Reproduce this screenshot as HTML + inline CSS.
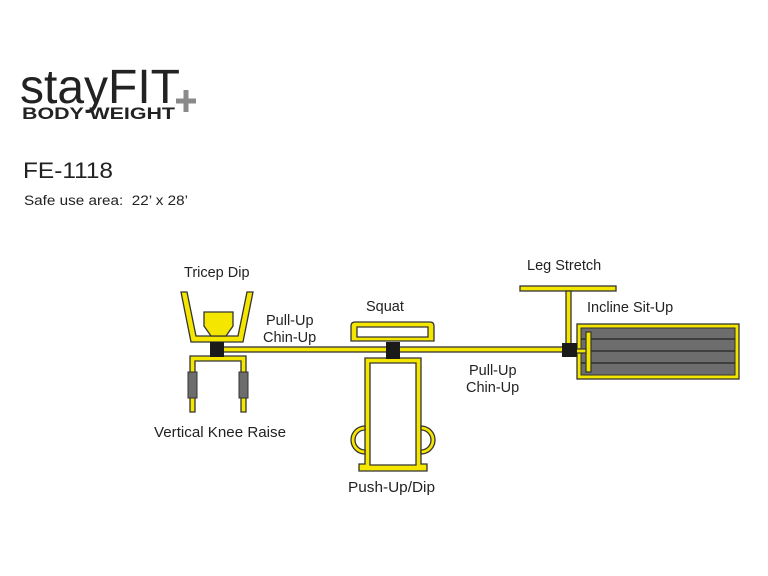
<!DOCTYPE html>
<html><head><style>
body{margin:0;background:#fff;}
svg{display:block}
text{font-family:"Liberation Sans",Arial,sans-serif;fill:#222}
</style></head><body>
<svg width="768" height="576" viewBox="0 0 768 576">
<!-- logo -->
<text x="20" y="103" font-size="48" fill="#1a1a1a" textLength="160" lengthAdjust="spacingAndGlyphs">stayFIT</text>
<text x="22" y="119" font-size="17" font-weight="bold" fill="#8a8a8a" textLength="153" lengthAdjust="spacingAndGlyphs">BODY WEIGHT</text>
<path d="M176 101h20M186 90v22" stroke="#8a8a8a" stroke-width="5"/>
<text x="23" y="178" font-size="22" textLength="90" lengthAdjust="spacingAndGlyphs">FE-1118</text>
<text x="24" y="205" font-size="13.5" textLength="164" lengthAdjust="spacingAndGlyphs">Safe use area:&#160; 22’ x 28’</text>

<g stroke="#333" stroke-width="1.3" fill="#f5e600">
<rect x="220" y="347" width="352" height="5"/>
<rect x="520" y="286" width="96" height="5"/>
<rect x="566" y="291" width="5" height="54"/>
<path d="M181 292 L187 292 L196 336 L238 336 L247 292 L253 292 L243 342 L191 342 Z"/>
<path d="M204 312 L233 312 L233 326 L226 336 L211 336 L204 326 Z"/>
<path d="M190 356 L246 356 L246 412 L241 412 L241 361 L195 361 L195 412 L190 412 Z"/>
<path fill-rule="evenodd" d="M355 322 H430 Q434 322 434 326 V341 H351 V326 Q351 322 355 322 Z M357 327 V337 H428 V327 Z"/>
<path fill-rule="evenodd" d="M365 358 H421 V464 H427 V471 H359 V464 H365 Z M370 363 V465 H416 V363 Z"/>
<path fill-rule="evenodd" d="M365 426 A13 13 0 0 0 365 454 V450 A9 9 0 0 1 365 430 Z"/>
<path fill-rule="evenodd" d="M421 426 A13 13 0 0 1 421 454 V450 A9 9 0 0 0 421 430 Z"/>
<rect x="577" y="324" width="162" height="55"/>
</g>
<rect x="581" y="328" width="154" height="47" fill="#6d6d6d" stroke="#333"/>
<g stroke="#222" stroke-width="1.2"><path d="M581 339H735M581 351H735M581 363H735"/></g>
<g stroke="#333" stroke-width="1.2" fill="#f5e600">
<rect x="586" y="332" width="5" height="40"/>
<rect x="576" y="349" width="10" height="4"/>
</g>
<rect x="210" y="342" width="14" height="15" fill="#1a1a1a"/>
<rect x="386" y="342" width="14" height="17" fill="#1a1a1a"/>
<rect x="562" y="343" width="15" height="14" fill="#1a1a1a"/>
<rect x="188" y="372" width="9" height="26" fill="#6d6d6d" stroke="#333"/>
<rect x="239" y="372" width="9" height="26" fill="#6d6d6d" stroke="#333"/>
<g font-size="14.5">
<text x="184" y="277">Tricep Dip</text>
<text x="266" y="325">Pull-Up</text>
<text x="263" y="342">Chin-Up</text>
<text x="366" y="311">Squat</text>
<text x="527" y="270">Leg Stretch</text>
<text x="587" y="312">Incline Sit-Up</text>
<text x="469" y="375">Pull-Up</text>
<text x="466" y="392">Chin-Up</text>
<text x="154" y="437" textLength="132" lengthAdjust="spacingAndGlyphs">Vertical Knee Raise</text>
<text x="348" y="492" textLength="87" lengthAdjust="spacingAndGlyphs">Push-Up/Dip</text>
</g>
</svg>
</body></html>
